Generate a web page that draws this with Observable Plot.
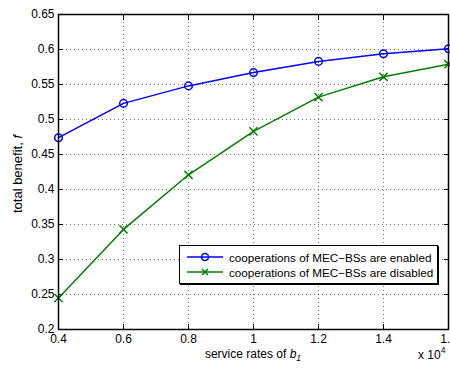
<!DOCTYPE html>
<html>
<head>
<meta charset="utf-8">
<script src="https://cdn.jsdelivr.net/npm/d3@7"></script>
<script src="https://cdn.jsdelivr.net/npm/@observablehq/plot@0.6"></script>
<style>
  html, body { margin: 0; padding: 0; background: #fff; overflow: hidden; }
  #wrap { position: relative; width: 450px; height: 369px; font-family: "Liberation Sans", Arial, sans-serif; color: #000; }
  .ov { position: absolute; font-size: 12px; white-space: nowrap; line-height: 14px; }
  #legend { position: absolute; left: 179px; top: 245px; width: 257px; height: 37px; border: 1px solid #000; box-shadow: 1px 1px 0 #000; background: #fff; font-size: 11.7px; }
  .row { position: absolute; left: 0; height: 14px; display: flex; align-items: center; }
</style>
</head>
<body>
<div id="wrap"></div>
<script>
const xRates = [0.4, 0.6, 0.8, 1.0, 1.2, 1.4, 1.6];
const enabled = [0.474, 0.523, 0.548, 0.567, 0.583, 0.594, 0.601];
const disabled = [0.245, 0.343, 0.421, 0.483, 0.532, 0.561, 0.579];
const xTicks = [0.4, 0.6, 0.8, 1.0, 1.2, 1.4, 1.6];
const yTicks = [0.2, 0.25, 0.3, 0.35, 0.4, 0.45, 0.5, 0.55, 0.6, 0.65];
const seriesNames = ["cooperations of MEC\u2212BSs are enabled", "cooperations of MEC\u2212BSs are disabled"];
const colors = ["#0000ff", "#008000"];

const dataE = xRates.map((x, i) => ({x, y: enabled[i]}));
const dataD = xRates.map((x, i) => ({x, y: disabled[i]}));
const fmt = d => String(+d.toFixed(2));

const plot = Plot.plot({
  width: 450,
  height: 369,
  marginLeft: 58,
  marginRight: 2,
  marginTop: 14,
  marginBottom: 40,
  style: {fontFamily: '"Liberation Sans", Arial, sans-serif', fontSize: "12px", color: "#000", background: "#fff"},
  x: {domain: [0.4, 1.6]},
  y: {domain: [0.2, 0.65]},
  marks: [
    Plot.gridX(xTicks, {stroke: "#000", strokeOpacity: 0.55, strokeDasharray: "1,3"}),
    Plot.gridY(yTicks, {stroke: "#000", strokeOpacity: 0.55, strokeDasharray: "1,3"}),
    Plot.axisX(xTicks, {anchor: "bottom", tickSize: -5, tickFormat: () => "", label: null}),
    Plot.axisX(xTicks, {anchor: "top", tickSize: -5, tickFormat: () => "", label: null}),
    Plot.axisY(yTicks, {anchor: "left", tickSize: -5, tickFormat: () => "", label: null}),
    Plot.axisY(yTicks, {anchor: "right", tickSize: -5, tickFormat: () => "", label: null}),
    Plot.axisX(xTicks, {anchor: "bottom", tickSize: 0, tickPadding: 5, tickFormat: fmt, label: null, fill: "#000", fontSize: 12}),
    Plot.axisY(yTicks, {anchor: "left", tickSize: 0, tickPadding: 4, tickFormat: fmt, label: null, fill: "#000", fontSize: 12}),
    Plot.line(dataE, {x: "x", y: "y", stroke: colors[0], strokeWidth: 1.5}),
    Plot.dot(dataE, {x: "x", y: "y", stroke: colors[0], r: 3.8, strokeWidth: 1.5, fill: "none"}),
    Plot.line(dataD, {x: "x", y: "y", stroke: colors[1], strokeWidth: 1.5}),
    Plot.dot(dataD, {x: "x", y: "y", stroke: colors[1], symbol: "times", r: 3.8, strokeWidth: 1.5}),
    Plot.frame({stroke: "#000", strokeWidth: 1.5})
  ]
});

const wrap = document.getElementById("wrap");
wrap.appendChild(plot);
plot.style.position = "absolute";
plot.style.left = "0";
plot.style.top = "0";

// axis labels
const xl = document.createElement("div");
xl.className = "ov";
xl.style.left = "253px"; xl.style.top = "347px"; xl.style.transform = "translateX(-50%)";
xl.innerHTML = 'service rates of <i>b</i><sub style="font-size:8.5px;font-style:italic;vertical-align:-3px;line-height:0">1</sub>';
wrap.appendChild(xl);

const yl = document.createElement("div");
yl.className = "ov";
yl.style.fontSize = "13px";
yl.style.left = "18px"; yl.style.top = "174px";
yl.style.transform = "translate(-50%,-50%) rotate(-90deg)";
yl.innerHTML = 'total benefit, <i>f</i>';
wrap.appendChild(yl);

const ex = document.createElement("div");
ex.className = "ov";
ex.style.left = "418px"; ex.style.top = "348px";
ex.innerHTML = 'x 10<sup style="font-size:8.5px;vertical-align:6px;line-height:0">4</sup>';
wrap.appendChild(ex);

// legend
const lg = document.createElement("div");
lg.id = "legend";
seriesNames.forEach((name, i) => {
  const row = document.createElement("div");
  row.className = "row";
  row.style.top = (4 + i * 15) + "px";
  const sym = i === 0
    ? `<circle cx="18" cy="6" r="3.5" fill="none" stroke="${colors[i]}" stroke-width="1.5"/>`
    : `<path d="M15,3L21,9M21,3L15,9" stroke="${colors[i]}" stroke-width="1.5"/>`;
  row.innerHTML = `<svg width="36" height="12" style="margin-left:7px"><line x1="0" y1="6" x2="36" y2="6" stroke="${colors[i]}" stroke-width="1.5"/>${sym}</svg><span style="margin-left:6px">${name}</span>`;
  lg.appendChild(row);
});
wrap.appendChild(lg);
</script>
</body>
</html>
